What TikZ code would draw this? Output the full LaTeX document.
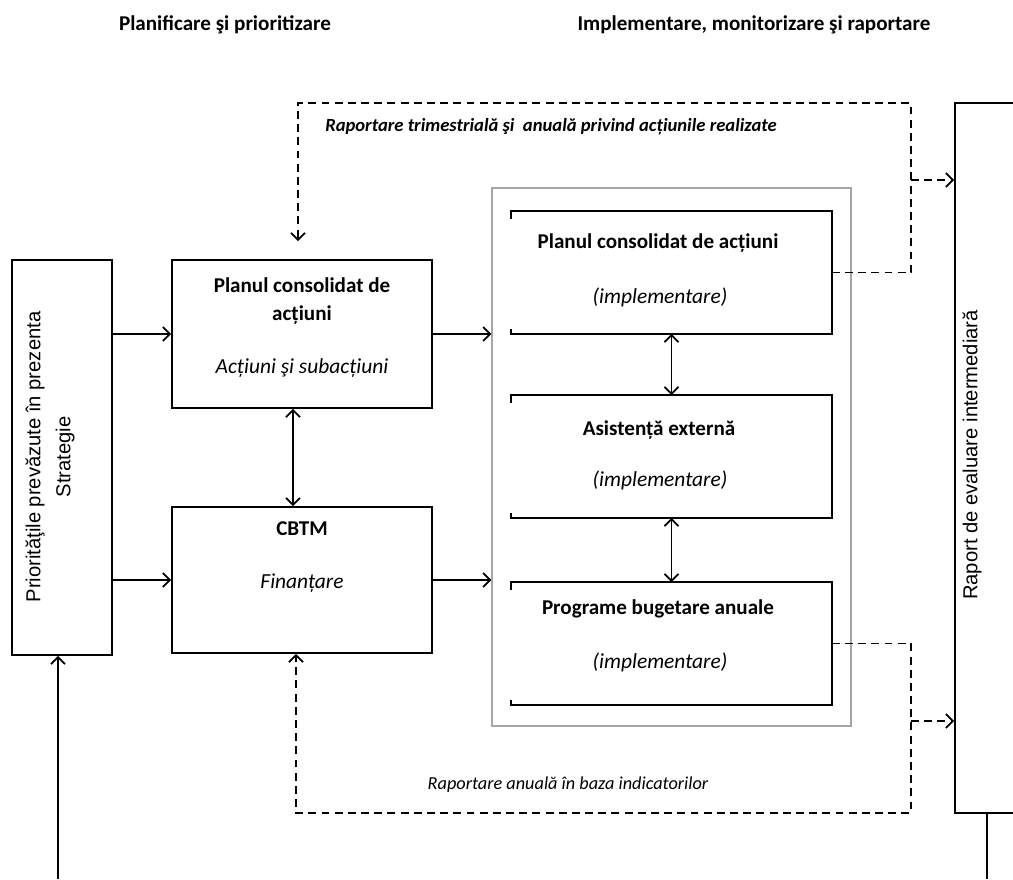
\documentclass[tikz,border=0pt]{standalone}
\usepackage{fontspec}
\setmainfont{Carlito}
\newfontfamily\arialfont{Liberation Sans}
\usetikzlibrary{arrows.meta}
\begin{document}
\begin{tikzpicture}[x = 0.02cm, y = -0.02cm, line width = 1pt,
                    >={Straight Barb[length = 4pt, width = 8pt]},
                    box/.style = {rectangle, draw, inner sep = 0pt},
                    plain/.style = {rectangle, draw = none, inner sep = 0pt},
                    frame/.style = {rectangle, draw = gray!70, line width = 0.7pt, inner sep = 0pt},
                    head/.style = {font = \fontsize{12}{14}\selectfont\bfseries},
                    bold/.style = {font = \fontsize{12}{14}\selectfont\bfseries},
                    ital/.style = {font = \fontsize{12.2}{14}\selectfont\itshape},
                    boldital/.style = {font = \fontsize{10.6}{12}\selectfont\bfseries\itshape},
                    lowital/.style = {font = \fontsize{10.4}{12}\selectfont\itshape},
                    sans/.style = {font = \fontsize{11.5}{17}\selectfont\arialfont, align = center},
                    dsh/.style = {dash pattern = on 4.5pt off 3pt}]
  \useasboundingbox (0, 0) rectangle (1013, 879);
  % headings
  \node [head] (H1) at (225, 25) {Planificare şi prioritizare};
  \node [head] (H2) at (754, 25) {Implementare, monitorizare şi raportare};
  % boxes
  \node [box, minimum width = 2cm, minimum height = 7.9cm] (L) at (62, 457.5) {};
  \node [box, minimum width = 5.2cm, minimum height = 2.96cm] (P) at (302, 334) {};
  \node [box, minimum width = 5.2cm, minimum height = 2.92cm] (C) at (302, 580) {};
  \node [frame, minimum width = 7.18cm, minimum height = 10.76cm] (G) at (671.5, 457) {};
  \node [plain, minimum width = 6.38cm, minimum height = 2.42cm] (I1) at (671.5, 272.5) {};
  \node [plain, minimum width = 6.38cm, minimum height = 2.42cm] (I2) at (671.5, 456.5) {};
  \node [plain, minimum width = 6.38cm, minimum height = 2.42cm] (I3) at (671.5, 643.5) {};
  \node [box, minimum width = 1.28cm, minimum height = 14.2cm] (R) at (987, 458) {};
  \foreach \n in {I1, I2, I3}
    \draw ([yshift = -0.16cm]\n.north west) -- (\n.north west) -- (\n.north east)
      -- (\n.south east) -- (\n.south west) -- ([yshift = 0.1cm]\n.south west);
  % texts
  \node [sans, rotate = 90] (Ltxt) at (50, 457) {Priorităţile prevăzute în prezenta\\Strategie};
  \node [sans, rotate = 90] (Rtxt) at (972, 455) {Raport de evaluare intermediară};
  \node [bold] (Pt1) at (302, 285) {Planul consolidat de};
  \node [bold] (Pt2) at (302, 315) {acțiuni};
  \node [ital] (Pt3) at (302, 368) {Acțiuni şi subacțiuni};
  \node [bold] (Ct1) at (302, 529) {CBTM};
  \node [ital] (Ct2) at (302, 583) {Finanțare};
  \node [bold] (I1t) at (658, 243) {Planul consolidat de acțiuni};
  \node [ital] (I1s) at (660, 297) {(implementare)};
  \node [bold] (I2t) at (659, 430) {Asistență externă};
  \node [ital] (I2s) at (660, 480) {(implementare)};
  \node [bold] (I3t) at (658, 609) {Programe bugetare anuale};
  \node [ital] (I3s) at (660, 662) {(implementare)};
  \node [boldital] (Top) at (551, 127) {Raportare trimestrială şi\ \ anuală privind acțiunile realizate};
  \node [lowital] (Bot) at (568, 785) {Raportare anuală în baza indicatorilor};
  % coordinates for the report loops
  \coordinate (TL) at (298, 103);
  \coordinate (TR) at (911, 103);
  \coordinate (A1) at (911, 180);
  \coordinate (BL) at (296, 813);
  \coordinate (BR) at (911, 813);
  \coordinate (A2) at (911, 721);
  \coordinate (B0) at (58, 879);
  \coordinate (B1) at (987, 879);
  % solid arrows
  \draw [->] (L.east |- P.west) -- (P.west);
  \draw [->] (L.east |- C.west) -- (C.west);
  \draw [->] (P.east) -- (P.east -| G.west);
  \draw [->] (C.east) -- (C.east -| G.west);
  \draw [<->] ([xshift = -0.18cm]P.south) -- ([xshift = -0.18cm]P.south |- C.north);
  \draw [<->] (I1.south) -- (I2.north);
  \draw [<->] (I2.south) -- (I3.north);
  \draw [->] (B0) -- (B0 |- L.south);
  \draw (R.south) -- (B1);
  % dashed reporting
  \draw [dsh, ->] (I1.east) -- (I1.east -| TR) -- (TR) -- (TL) -- ([yshift = 0.36cm]TL |- P.north);
  \draw [dsh, ->] (A1) -- (A1 -| R.west);
  \draw [dsh, ->] (I3.east) -- (I3.east -| BR) -- (BR) -- (BL) -- (BL |- C.south);
  \draw [dsh, ->] (A2) -- (A2 -| R.west);
\end{tikzpicture}
\end{document}
